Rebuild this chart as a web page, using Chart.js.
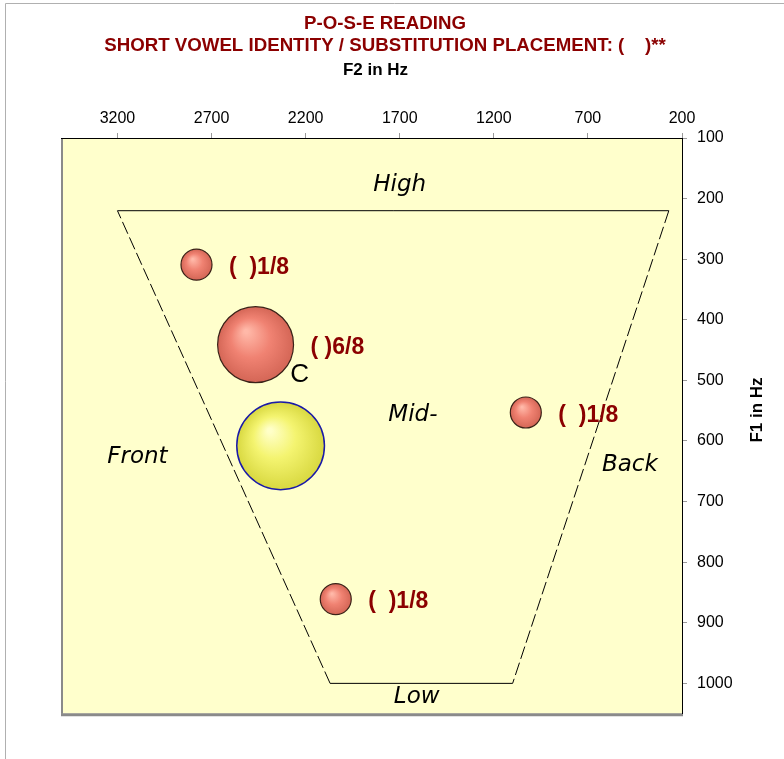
<!DOCTYPE html>
<html>
<head>
<meta charset="utf-8">
<script src="https://cdn.jsdelivr.net/npm/chart.js@4.4.1/dist/chart.umd.min.js"></script>
<style>
  body { margin: 0; background: #fff; }
  #wrap { width: 784px; height: 759px; position: relative; }
</style>
</head>
<body>
<div id="wrap"><canvas id="chart"></canvas></div>
<script>
// vowel bubbles: F2 (x), F1 (y), relative size
const bubbleF2 = [2780, 2466, 2333, 1030, 2040];
const bubbleF1 = [309, 441, 608, 553, 861];
const bubbleSize = [1, 6, 8, 1, 1];
const bubbleLabels = ['(  )1/8', '( )6/8', '', '(  )1/8', '(  )1/8'];
const bubbleKind = ['red', 'red', 'yellow', 'red', 'red'];

// vowel quadrilateral outline
const quadF2 = [3200, 270, 1100, 2070, 3200];
const quadF1 = [220, 220, 1000, 1000, 220];

// region words
const regionText = ['High', 'Mid-', 'Front', 'Back', 'Low'];
const regionF2 = [1700, 1630, 3094, 477, 1610];
const regionF1 = [177, 557, 626, 639, 1023];

// tick labels
const xTicks = [200, 700, 1200, 1700, 2200, 2700, 3200];
const yTicks = [100, 200, 300, 400, 500, 600, 700, 800, 900, 1000];

const titleLines = ['P-O-S-E READING', 'SHORT VOWEL IDENTITY / SUBSTITUTION PLACEMENT: (    )**'];
const xTitle = 'F2 in Hz';
const yTitle = 'F1 in Hz';

const FONT = "'Liberation Sans', Arial, sans-serif";
const DARKRED = '#8B0000';

function sphere(ctx) {
  const chart = ctx.chart;
  if (!chart.chartArea || ctx.dataIndex === undefined) return '#F08070';
  const raw = ctx.raw;
  const cx = chart.scales.x.getPixelForValue(raw.x);
  const cy = chart.scales.y.getPixelForValue(raw.y);
  const r = raw.r;
  const g = chart.ctx.createRadialGradient(cx - r * 0.25, cy - r * 0.35, r * 0.05, cx, cy, r);
  if (bubbleKind[ctx.dataIndex] === 'yellow') {
    g.addColorStop(0, '#FFFFC8');
    g.addColorStop(0.45, '#F4F470');
    g.addColorStop(1, '#D8D840');
  } else {
    g.addColorStop(0, '#FFB8A8');
    g.addColorStop(0.5, '#F08272');
    g.addColorStop(1, '#D46656');
  }
  return g;
}

const bubbleData = bubbleF2.map((v, i) => ({ x: v, y: bubbleF1[i], r: 15.5 * Math.sqrt(bubbleSize[i]) }));
const quadData = quadF2.map((v, i) => ({ x: v, y: quadF1[i] }));

const decor = {
  id: 'decor',
  beforeDraw(chart) {
    const { ctx, chartArea: a } = chart;
    ctx.save();
    ctx.fillStyle = '#FFFFCC';
    ctx.fillRect(a.left, a.top, a.right - a.left, a.bottom - a.top);
    ctx.strokeStyle = '#8a8a8a';
    ctx.lineWidth = 2;
    ctx.beginPath();
    ctx.moveTo(a.left + 1, a.top);
    ctx.lineTo(a.left + 1, a.bottom);
    ctx.stroke();
    ctx.lineWidth = 3;
    ctx.beginPath();
    ctx.moveTo(a.left, a.bottom + 1);
    ctx.lineTo(a.right + 1, a.bottom + 1);
    ctx.stroke();
    // outer frame
    ctx.strokeStyle = '#b0b0b0';
    ctx.lineWidth = 1;
    ctx.beginPath();
    ctx.moveTo(5.5, 759);
    ctx.lineTo(5.5, 3.5);
    ctx.lineTo(784, 3.5);
    ctx.stroke();
    ctx.restore();
  },
  beforeDatasetsDraw(chart) {
    const { ctx, scales } = chart;
    ctx.save();
    ctx.fillStyle = '#000';
    ctx.font = "italic 23px 'DejaVu Sans', Verdana, sans-serif";
    ctx.textAlign = 'center';
    ctx.textBaseline = 'middle';
    regionText.forEach((t, i) => {
      ctx.fillText(t, scales.x.getPixelForValue(regionF2[i]), scales.y.getPixelForValue(regionF1[i]));
    });
    ctx.restore();
  },
  afterDatasetsDraw(chart) {
    const { ctx, scales } = chart;
    const meta = chart.getDatasetMeta(1);
    ctx.save();
    ctx.fillStyle = DARKRED;
    ctx.font = 'bold 23px ' + FONT;
    ctx.textAlign = 'left';
    ctx.textBaseline = 'middle';
    meta.data.forEach((el, i) => {
      if (!bubbleLabels[i]) return;
      ctx.fillText(bubbleLabels[i], el.x + el.options.radius + 17, el.y + 3);
    });
    ctx.fillStyle = '#000';
    ctx.font = '26px ' + FONT;
    ctx.textAlign = 'center';
    ctx.fillText('C', scales.x.getPixelForValue(2232), scales.y.getPixelForValue(491));
    ctx.restore();
  },
  afterDraw(chart) {
    const { ctx, chartArea: a } = chart;
    ctx.save();
    ctx.textAlign = 'center';
    ctx.textBaseline = 'middle';
    ctx.fillStyle = DARKRED;
    ctx.font = 'bold 18.7px ' + FONT;
    ctx.fillText(titleLines[0], 385, 24);
    ctx.fillText(titleLines[1], 385, 46);
    ctx.fillStyle = '#000';
    ctx.font = 'bold 17px ' + FONT;
    ctx.fillText(xTitle, (a.left + a.right) / 2 + 4, 70);
    ctx.translate(757, 410);
    ctx.rotate(-Math.PI / 2);
    ctx.font = 'bold 17px ' + FONT;
    ctx.fillText(yTitle, 0, 0);
    ctx.restore();
  }
};

new Chart(document.getElementById('chart'), {
  type: 'bubble',
  data: {
    datasets: [
      {
        type: 'scatter',
        data: quadData,
        showLine: true,
        borderColor: '#000',
        borderWidth: 1,
        pointRadius: 0,
        order: 2,
        segment: {
          borderDash: ctx => (ctx.p0DataIndex % 2 === 1 ? [13, 4] : [])
        }
      },
      {
        data: bubbleData,
        backgroundColor: sphere,
        borderColor: bubbleKind.map(k => (k === 'yellow' ? '#1a1aa8' : '#3a2218')),
        borderWidth: bubbleKind.map(k => (k === 'yellow' ? 1.5 : 1.2)),
        order: 1
      }
    ]
  },
  options: {
    responsive: true,
    maintainAspectRatio: false,
    animation: false,
    events: [],
    layout: { padding: { left: 61, top: 0, right: 0, bottom: 44 } },
    plugins: {
      legend: { display: false },
      tooltip: { enabled: false }
    },
    scales: {
      x: {
        type: 'linear',
        position: 'top',
        reverse: true,
        min: 200,
        max: 3500,
        afterBuildTicks: s => { s.ticks = xTicks.map(v => ({ value: v })); },
        afterFit: s => { s.height = 138; },
        grid: { drawOnChartArea: false, tickLength: 5, color: '#999' },
        border: { color: '#000', width: 1 },
        ticks: { color: '#000', font: { family: FONT, size: 16 }, padding: 5, maxRotation: 0, callback: v => String(v) }
      },
      y: {
        type: 'linear',
        position: 'right',
        reverse: true,
        min: 100,
        max: 1050,
        afterBuildTicks: s => { s.ticks = yTicks.map(v => ({ value: v })); },
        afterFit: s => { s.width = 102; },
        grid: { drawOnChartArea: false, tickLength: 5, color: '#999' },
        border: { color: '#000', width: 1 },
        ticks: { color: '#000', font: { family: FONT, size: 16 }, padding: 10, callback: v => String(v) }
      }
    }
  },
  plugins: [decor]
});
</script>
</body>
</html>
